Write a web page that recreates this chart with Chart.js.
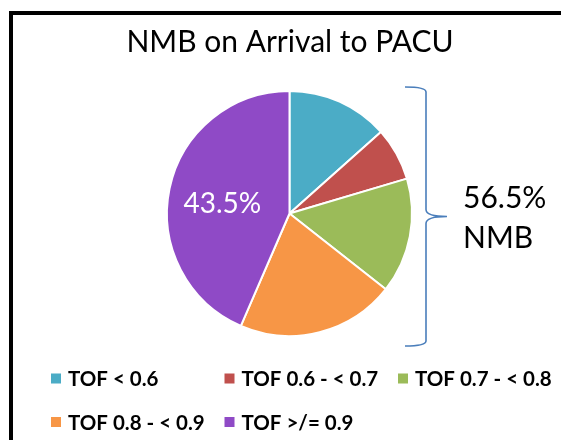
<!DOCTYPE html>
<html><head><meta charset="utf-8">
<script src="https://cdn.jsdelivr.net/npm/chart.js@4"></script>
<style>
html,body{margin:0;padding:0;background:#fff;overflow:hidden;width:561px;height:440px}
#frame{position:absolute;left:9px;top:11px;width:700px;height:600px;border:4px solid #000;box-sizing:border-box}
#c{position:absolute;left:0;top:0}
</style></head><body>
<div id="frame"></div>
<canvas id="c" width="561" height="440"></canvas>
<script>
const categories = ["TOF < 0.6", "TOF 0.6 - < 0.7", "TOF 0.7 - < 0.8", "TOF 0.8 - < 0.9", "TOF >/= 0.9"];
const shares = [13.4, 7.0, 15.2, 20.9, 43.5];
const sliceColors = ["#4BACC6", "#C0504D", "#9BBB59", "#F79646", "#8F4AC6"];
const titleText = "NMB on Arrival to PACU";
const bracketCaption = "NMB";
const FONT = "Lato, 'Open Sans', sans-serif";

const overlay = {
  id: 'overlay',
  afterDraw(chart) {
    const ctx = chart.ctx;
    const meta = chart.getDatasetMeta(0);
    const ds = chart.data.datasets[0];
    const cx = meta.data[0].x, cy = meta.data[0].y, r = meta.data[0].outerRadius;
    ctx.save();
    // title
    ctx.fillStyle = '#000';
    ctx.font = "30px " + FONT;
    ctx.textAlign = 'center';
    ctx.textBaseline = 'alphabetic';
    ctx.fillText(titleText, 290, 52);

    // label inside the largest slice
    const last = meta.data[ds.data.length - 1];
    const mid = (last.startAngle + last.endAngle) / 2;
    const d = r * 0.56;
    ctx.fillStyle = '#fff';
    ctx.font = "28px " + FONT;
    ctx.textBaseline = 'middle';
    ctx.fillText(ds.data[ds.data.length - 1].toFixed(1) + '%', cx + Math.cos(mid) * d, cy + Math.sin(mid) * d + 4);

    // bracket
    const bx = cx + r + 14;
    const top = cy - r - 4, bot = cy + r + 10, tipY = cy + 3;
    ctx.strokeStyle = '#4A7EBB';
    ctx.lineWidth = 1.6;
    ctx.beginPath();
    ctx.moveTo(bx - 21, top);
    ctx.quadraticCurveTo(bx, top, bx, top + 5);
    ctx.lineTo(bx, tipY - 7);
    ctx.quadraticCurveTo(bx, tipY, bx + 21, tipY);
    ctx.quadraticCurveTo(bx, tipY, bx, tipY + 7);
    ctx.lineTo(bx, bot - 5);
    ctx.quadraticCurveTo(bx, bot, bx - 21, bot);
    ctx.stroke();

    // bracket caption
    const nmbSum = ds.data.slice(0, ds.data.length - 1).reduce((a, b) => a + b, 0);
    ctx.fillStyle = '#000';
    ctx.font = "30px " + FONT;
    ctx.textAlign = 'left';
    ctx.textBaseline = 'alphabetic';
    ctx.fillText(nmbSum.toFixed(1) + '%', 463, 208);
    ctx.fillText(bracketCaption, 463, 248);

    // legend (3 columns)
    ctx.font = "bold 20.5px " + FONT;
    ctx.textBaseline = 'middle';
    chart.data.labels.forEach((lab, i) => {
      const col = i % 3, row = Math.floor(i / 3);
      const x = 51 + col * 173.5;
      const y = 378.5 + row * 43.5;
      ctx.fillStyle = ds.backgroundColor[i];
      ctx.fillRect(x, y - 5, 10, 10);
      ctx.fillStyle = '#000';
      ctx.fillText(lab, x + 17, y + 1);
    });
    ctx.restore();
  }
};

new Chart(document.getElementById('c'), {
  type: 'pie',
  data: {
    labels: categories,
    datasets: [{
      data: shares,
      backgroundColor: sliceColors,
      borderColor: '#fff',
      borderWidth: 2
    }]
  },
  options: {
    responsive: false,
    animation: false,
    layout: { padding: { left: 166, right: 148, top: 90, bottom: 103 } },
    plugins: { legend: { display: false }, tooltip: { enabled: false }, title: { display: false } }
  },
  plugins: [overlay]
});
</script>
</body></html>
